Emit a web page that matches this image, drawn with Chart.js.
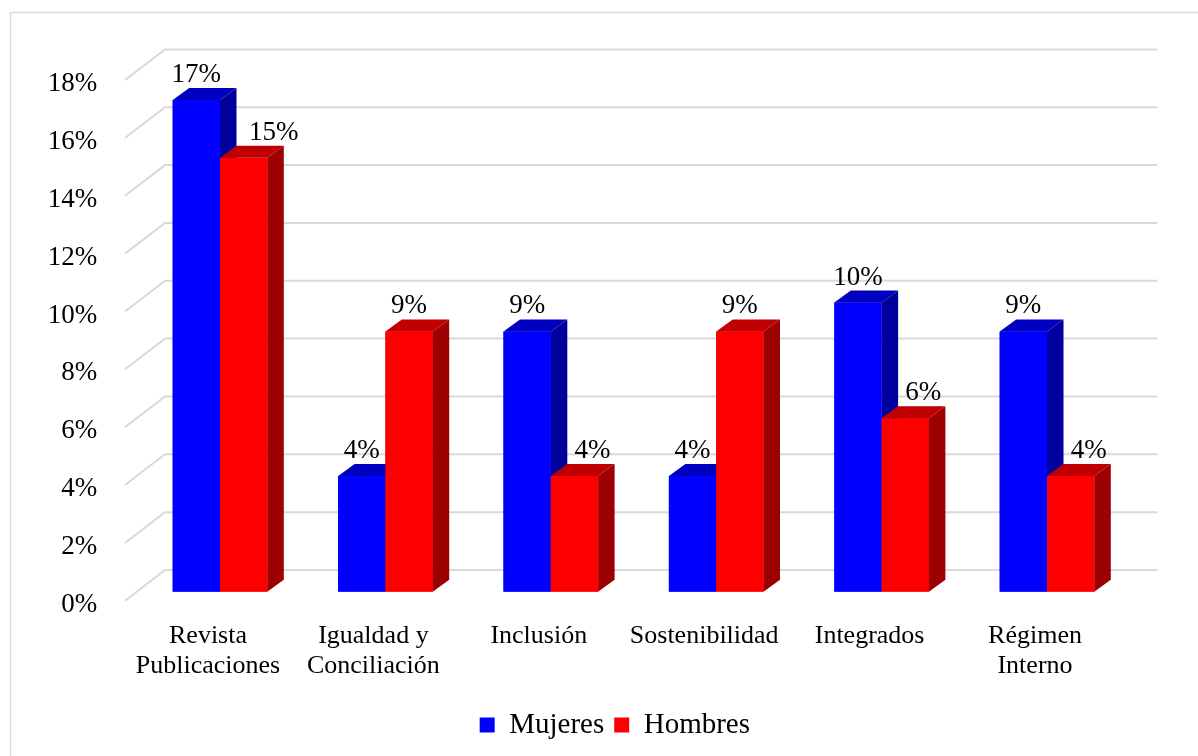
<!DOCTYPE html>
<html>
<head>
<meta charset="utf-8">
<script src="https://cdn.jsdelivr.net/npm/chart.js@4.4.1/dist/chart.umd.min.js"></script>
<style>
  html, body { margin: 0; padding: 0; background: #fff; }
  canvas { display: block; }
</style>
</head>
<body>
<canvas id="chart" width="1198" height="756"></canvas>
<script>
// data
const categories = [['Revista', 'Publicaciones'], ['Igualdad y', 'Conciliación'], 'Inclusión', 'Sostenibilidad', 'Integrados', ['Régimen', 'Interno']];
const mujeres = [17, 4, 9, 4, 10, 9];
const hombres = [15, 9, 4, 9, 6, 4];
const yMax = 18;
const yStep = 2;

const FONT = "'Liberation Serif', 'Times New Roman', serif";

// 3d look: offsets from the bar plane
const FRONT = { dx: -12.3, dy: 9 };
const BACK = { dx: 27.7, dy: -21.7 };
const BAR_DEPTH = { dx: 16.5, dy: -12 };

const faces = [
  { front: '#0000ff', top: '#0000c0', side: '#00009c' },
  { front: '#ff0000', top: '#c00000', side: '#9c0000' }
];

const threeD = {
  id: 'threeD',
  beforeDraw(chart) {
    const ctx = chart.ctx;
    ctx.save();
    ctx.strokeStyle = '#d9d9d9';
    ctx.lineWidth = 1.5;
    ctx.strokeRect(10.5, 12.5, 1400, 1000);
    ctx.restore();
  },
  beforeDatasetsDraw(chart) {
    const ctx = chart.ctx;
    const area = chart.chartArea;
    const yScale = chart.scales.y;
    ctx.save();
    ctx.strokeStyle = '#d9d9d9';
    ctx.lineWidth = 2;
    yScale.ticks.forEach(t => {
      const y = yScale.getPixelForValue(t.value);
      ctx.beginPath();
      ctx.moveTo(area.left + FRONT.dx, y + FRONT.dy);
      ctx.lineTo(area.left + BACK.dx, y + BACK.dy);
      ctx.lineTo(area.right + BACK.dx, y + BACK.dy);
      ctx.stroke();
    });
    ctx.restore();
  },
  afterDatasetsDraw(chart) {
    const ctx = chart.ctx;
    const metas = [chart.getDatasetMeta(0), chart.getDatasetMeta(1)];
    ctx.save();
    // bars, left to right so the red front hides the blue side
    for (let i = 0; i < categories.length; i++) {
      metas.forEach((meta, d) => {
        const bar = meta.data[i].getProps(['x', 'y', 'base', 'width'], true);
        const l = bar.x - bar.width / 2;
        const r = bar.x + bar.width / 2;
        const c = faces[d];
        ctx.fillStyle = c.front;
        ctx.fillRect(l, bar.y, bar.width, bar.base - bar.y);
        ctx.fillStyle = c.top;
        ctx.beginPath();
        ctx.moveTo(l, bar.y);
        ctx.lineTo(l + BAR_DEPTH.dx, bar.y + BAR_DEPTH.dy);
        ctx.lineTo(r + BAR_DEPTH.dx, bar.y + BAR_DEPTH.dy);
        ctx.lineTo(r, bar.y);
        ctx.closePath();
        ctx.fill();
        ctx.fillStyle = c.side;
        ctx.beginPath();
        ctx.moveTo(r, bar.y);
        ctx.lineTo(r + BAR_DEPTH.dx, bar.y + BAR_DEPTH.dy);
        ctx.lineTo(r + BAR_DEPTH.dx, bar.base + BAR_DEPTH.dy);
        ctx.lineTo(r, bar.base);
        ctx.closePath();
        ctx.fill();
      });
    }
    // value labels
    ctx.fillStyle = '#000';
    ctx.font = '27px ' + FONT;
    ctx.textAlign = 'center';
    ctx.textBaseline = 'middle';
    for (let i = 0; i < categories.length; i++) {
      metas.forEach((meta, d) => {
        const bar = meta.data[i];
        const v = chart.data.datasets[d].data[i];
        let x = bar.x;
        if (d === 1 && v < mujeres[i]) x += (i === 0 ? 30 : 18);
        ctx.fillText(v + '%', x, bar.y - 25);
      });
    }
    ctx.restore();
  }
};

new Chart(document.getElementById('chart'), {
  type: 'bar',
  data: {
    labels: categories,
    datasets: [
      { label: 'Mujeres', data: mujeres, backgroundColor: '#0000ff', borderWidth: 0 },
      { label: 'Hombres', data: hombres, backgroundColor: '#ff0000', borderWidth: 0 }
    ]
  },
  options: {
    responsive: false,
    animation: false,
    datasets: {
      bar: { categoryPercentage: 0.572, barPercentage: 1 }
    },
    layout: {
      padding: { left: 50, right: 18.3, top: 71.1, bottom: 6.5 }
    },
    plugins: {
      legend: {
        position: 'bottom',
        labels: {
          boxWidth: 15,
          boxHeight: 15,
          padding: 10,
          color: '#000',
          font: { family: FONT, size: 29 }
        }
      },
      tooltip: { enabled: false }
    },
    scales: {
      x: {
        grid: { display: false, drawTicks: false },
        border: { display: false },
        ticks: {
          color: '#000',
          font: { family: FONT, size: 26, lineHeight: 1.15 },
          padding: 30,
          labelOffset: -12,
          maxRotation: 0,
          autoSkip: false
        },
        afterFit(scale) { scale.height = 108.8; }
      },
      y: {
        min: 0,
        max: yMax,
        grid: { display: false, drawTicks: false },
        border: { display: false },
        ticks: {
          stepSize: yStep,
          color: '#000',
          font: { family: FONT, size: 27 },
          padding: 40,
          labelOffset: 13,
          callback: v => v + '%'
        },
        afterFit(scale) { scale.width = 87.3; }
      },
      // empty right axis, only keeps room for the 3d depth
      yRight: {
        position: 'right',
        min: 0,
        max: yMax,
        grid: { display: false, drawTicks: false },
        border: { display: false },
        ticks: { display: false },
        afterFit(scale) { scale.width = 50; }
      }
    }
  },
  plugins: [threeD]
});
</script>
</body>
</html>
